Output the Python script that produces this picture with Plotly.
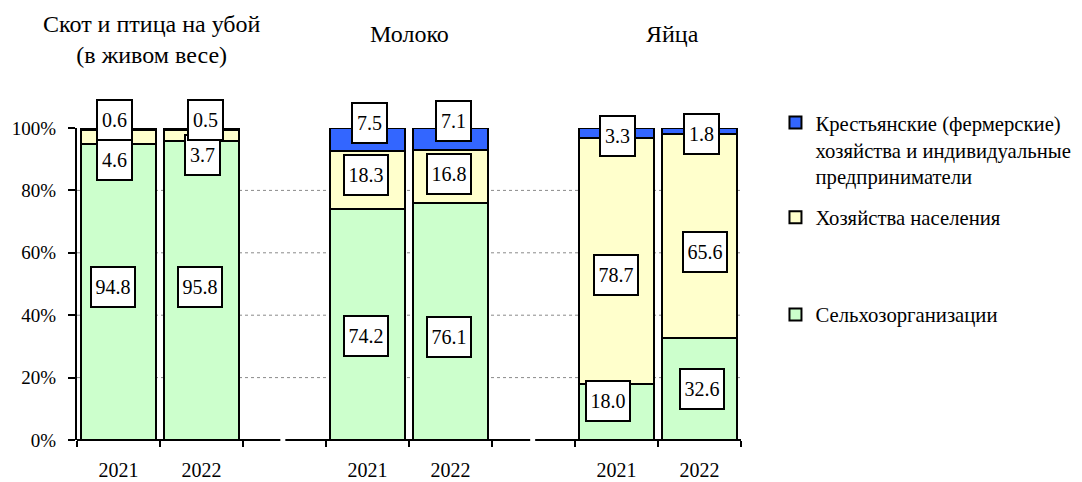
import plotly.graph_objects as go

# ---- data ----
groups = ["Скот и птица на убой<br>(в живом весе)", "Молоко", "Яйца"]
bar_x = [0.5, 1.5, 3.5, 4.5, 6.5, 7.5]
bar_years = ["2021", "2022", "2021", "2022", "2021", "2022"]
selhoz = [94.8, 95.8, 74.2, 76.1, 18.0, 32.6]
naselenie = [4.6, 3.7, 18.3, 16.8, 78.7, 65.6]
fermer = [0.6, 0.5, 7.5, 7.1, 3.3, 1.8]
y_ticks = [0, 20, 40, 60, 80, 100]
y_ticktext = ["0%", "20%", "40%", "60%", "80%", "100%"]

names = {
    "fermer": "Крестьянские (фермерские)<br>хозяйства и индивидуальные<br>предприниматели",
    "naselenie": "Хозяйства населения",
    "selhoz": "Сельхозорганизации",
}
colors = {"selhoz": "#CCFFCC", "naselenie": "#FFFFCC", "fermer": "#3366FF"}

# label placement (in % of axis, and pixel x shifts) – layout, not data
lab_y = {
    "selhoz": [49.0, 49.0, 33.3, 33.0, 12.5, 16.3],
    "naselenie": [89.7, 91.5, 84.9, 85.3, 53.0, 60.1],
    "fermer": [102.6, 102.6, 101.6, 102.2, 97.3, 98.1],
}
lab_dx = {
    "selhoz": [-6, -2, -2, -2, -9, 2],
    "naselenie": [-4, 1, -2, -2, -1, 5],
    "fermer": [-4, 4, 2, 3, 1, 2],
}

FONT = "Liberation Serif"

fig = go.Figure()
series = [("selhoz", selhoz, "legend3"), ("naselenie", naselenie, "legend2"), ("fermer", fermer, "legend")]
for key, vals, leg in series:
    fig.add_trace(go.Bar(
        x=bar_x, y=vals, width=0.91, name=names[key], legend=leg,
        marker=dict(color=colors[key], line=dict(color="black", width=2)),
        hoverinfo="skip",
    ))

annotations = []
for key, vals, _ in series:
    for i, v in enumerate(vals):
        t = f"{v:.1f}"
        annotations.append(dict(
            x=bar_x[i], y=lab_y[key][i] / 100.0, xref="x", yref="paper",
            xanchor="center", yanchor="middle", text=t, showarrow=False,
            xshift=lab_dx[key][i],
            font=dict(family=FONT, size=20, color="black"),
            bgcolor="white", bordercolor="black", borderwidth=2, borderpad=1,
            width=40 if len(t) > 3 else 31, height=36,
        ))

title_pos = [(0.9, 1.284), (4.0, 1.30), (7.18, 1.30)]
for g, (tx, ty) in zip(groups, title_pos):
    annotations.append(dict(
        x=tx, y=ty, xref="x", yref="paper", xanchor="center", yanchor="middle",
        text=g, showarrow=False,
        font=dict(family=FONT, size=24, color="black"), align="center",
    ))

for v in [20, 40, 60, 80]:
    fig.add_hline(y=v, line=dict(color="#8a8a8a", width=1, dash="dot"), layer="below")

# broken x axis line
for x0, x1 in [(0, 2.45), (2.51, 5.46), (5.52, 8)]:
    fig.add_shape(type="line", xref="x", yref="paper", x0=x0, x1=x1, y0=0, y1=0,
                  line=dict(color="black", width=2))

leg_common = dict(xref="container", yref="container", xanchor="left",
                  font=dict(family=FONT, size=20.7, color="black"),
                  bgcolor="rgba(0,0,0,0)", itemclick=False, itemdoubleclick=False)
fig.update_layout(
    width=1082, height=482,
    margin=dict(l=77, r=341, t=128, b=42, autoexpand=False),
    paper_bgcolor="white", plot_bgcolor="white",
    barmode="stack",
    font=dict(family=FONT, size=19, color="black"),
    annotations=annotations,
    legend=dict(x=0.7167, y=0.787, yanchor="top", valign="top", **leg_common),
    legend2=dict(x=0.7167, y=0.549, yanchor="middle", **leg_common),
    legend3=dict(x=0.7167, y=0.3476, yanchor="middle", **leg_common),
    xaxis=dict(range=[0, 8], tickmode="array", tickvals=bar_x, ticktext=bar_years,
               ticks="", showline=False, showgrid=False, zeroline=False,
               ticklabelstandoff=16, tickfont=dict(family=FONT, size=20, color="black"),
               minor=dict(tickmode="linear", tick0=0, dtick=1, ticks="outside",
                          ticklen=6, tickwidth=2, tickcolor="black", showgrid=False)),
    yaxis=dict(range=[0, 100], tickmode="array", tickvals=y_ticks, ticktext=y_ticktext,
               ticks="outside", ticklen=7, tickwidth=2, tickcolor="black",
               showline=True, linewidth=2, linecolor="black", showgrid=False,
               zeroline=False, ticklabelstandoff=8,
               tickfont=dict(family=FONT, size=19, color="black")),
    showlegend=True,
)

fig.write_html("out.html", config={"displayModeBar": False},
               post_script="document.body.style.margin='0px';")
